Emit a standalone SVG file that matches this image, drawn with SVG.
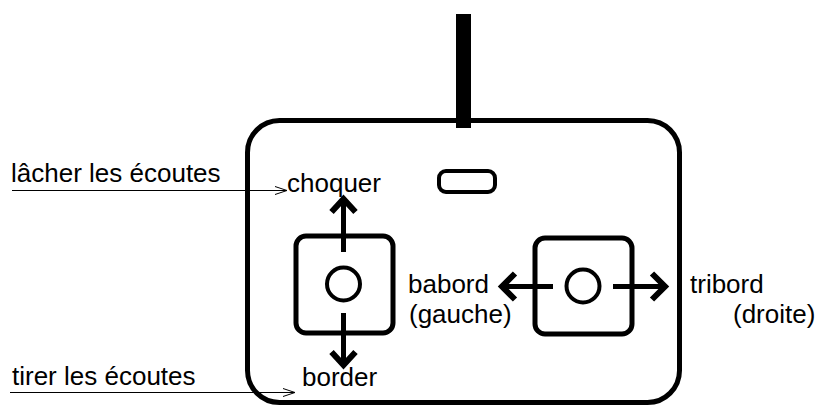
<svg xmlns="http://www.w3.org/2000/svg" width="818" height="407" viewBox="0 0 818 407">
  <style>
    .thick { fill: none; stroke: #000; stroke-width: 5; stroke-linejoin: round; stroke-linecap: butt; }
    .head { fill: none; stroke: #000; stroke-width: 6; stroke-linejoin: miter; stroke-linecap: butt; }
    .thin { fill: none; stroke: #000; stroke-width: 1; }
    .lbl { font-family: "Liberation Sans", Arial, sans-serif; font-size: 26px; fill: #000; }
  </style>
  <rect width="818" height="407" fill="#fff"/>

  <!-- remote body -->
  <g id="body">
    <rect x="456" y="14" width="15" height="114" fill="#000"/>
    <rect class="thick" x="247.5" y="120.5" width="432" height="282" rx="32"/>
    <rect x="439" y="171" width="56" height="21" rx="7" fill="none" stroke="#000" stroke-width="4"/>
  </g>

  <!-- left stick -->
  <g id="stick-left">
    <rect class="thick" x="296" y="236" width="97" height="97" rx="10"/>
    <circle cx="343.5" cy="284" r="16.5" fill="none" stroke="#000" stroke-width="4"/>
  </g>

  <!-- right stick -->
  <g id="stick-right">
    <rect class="thick" x="535" y="238" width="97" height="96" rx="10"/>
    <circle cx="583" cy="286" r="16.5" fill="none" stroke="#000" stroke-width="4"/>
  </g>

  <!-- stick direction arrows and label leaders -->
  <g id="connectors">
    <line class="thick" x1="343.5" y1="252" x2="343.5" y2="198"/>
    <polyline class="head" points="331.5,212 343.5,199 355.5,212"/>
    <line class="thick" x1="343.5" y1="313" x2="343.5" y2="365"/>
    <polyline class="head" points="331.5,352 343.5,365 355.5,352"/>
    <line class="thick" x1="553" y1="286.5" x2="502" y2="286.5"/>
    <polyline class="head" points="515,273.5 502,286.5 515,299.5"/>
    <line class="thick" x1="613" y1="286.5" x2="665" y2="286.5"/>
    <polyline class="head" points="652,273.5 665,286.5 652,299.5"/>

    <line class="thin" x1="12" y1="190.5" x2="287" y2="190.5"/>
    <polyline class="thin" points="275,186.5 287,190.5 275,194.5"/>
    <line class="thin" x1="10" y1="392.5" x2="295" y2="392.5"/>
    <polyline class="thin" points="283,388.5 295,392.5 283,396.5"/>
  </g>

  <!-- labels -->
  <g id="labels">
    <text class="lbl" x="11" y="182">lâcher les écoutes</text>
    <text class="lbl" x="287" y="192">choquer</text>
    <text class="lbl" x="12" y="385">tirer les écoutes</text>
    <text class="lbl" x="302" y="386">border</text>
    <text class="lbl" x="408" y="293">babord</text>
    <text class="lbl" x="409" y="323">(gauche)</text>
    <text class="lbl" x="690" y="293">tribord</text>
    <text class="lbl" x="733" y="323">(droite)</text>
  </g>
</svg>
